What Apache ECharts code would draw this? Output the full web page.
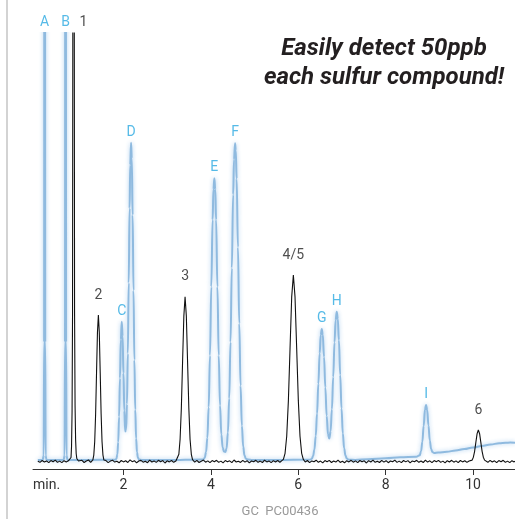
<!DOCTYPE html>
<html><head><meta charset="utf-8">
<script src="https://cdn.jsdelivr.net/npm/echarts@6/dist/echarts.min.js"></script>
<style>html,body{margin:0;padding:0;background:#fff}#c{width:515px;height:519px}</style>
</head><body><div id="c"></div>
<script>
// x axis ticks (minutes)
const xTickValues = [2, 4, 6, 8, 10];
const xTickLabels = ['2', '4', '6', '8', '10'];

// Blue trace (reference chromatogram), [minutes, response]
const blueTrace = [
  [0.04,1.5],[0.15,1.5],[0.175,6],[0.185,120],[0.197,1500],[0.209,120],[0.219,6],[0.24,1.5],
  [0.63,1.5],[0.653,6],[0.663,120],[0.675,1500],[0.687,120],[0.697,6],[0.72,1.5],
  [1.2,1.5],[1.82,1.8],[1.84,2.9],[1.86,7.2],[1.88,19.3],[1.90,44.7],[1.92,83.3],[1.94,122],[1.961,139.8],
  [1.98,125.2],[2.00,88.2],[2.02,50.9],[2.04,30],[2.06,31.6],[2.08,57.4],[2.10,107.9],[2.12,178.6],
  [2.14,253.3],[2.155,296.6],[2.174,318.8],[2.19,303],[2.21,246.4],[2.23,171],[2.25,101.5],[2.27,51.7],
  [2.29,23],[2.31,9.3],[2.33,3.9],[2.36,1.8],[2.42,1.5],
  [3.0,1.5],[3.83,2.1],[3.86,3.8],[3.89,9.4],[3.92,23.7],[3.95,54.2],[3.98,106],[4.01,174.8],[4.04,241.8],
  [4.06,272.2],[4.08,283.2],[4.10,272.2],[4.12,241.8],[4.15,174.8],[4.18,106],[4.21,56],[4.24,27],
  [4.27,14],[4.30,10],[4.33,9.5],[4.36,13],[4.39,29],[4.42,63],[4.45,119.4],[4.48,193.6],[4.51,266.9],
  [4.53,302],[4.554,318.2],[4.57,310.9],[4.59,282.8],[4.62,214.3],[4.65,138.1],[4.68,75.8],[4.71,35.8],
  [4.74,14.9],[4.77,6],[4.80,2.8],[4.85,2],[4.95,1.5],
  [5.5,1.5],[6.28,1.9],[6.31,2.8],[6.34,5.5],[6.37,12.1],[6.40,25.6],[6.43,48],[6.46,77.8],[6.49,108.2],
  [6.515,126.5],[6.538,132.5],[6.56,127],[6.59,104.6],[6.62,74],[6.65,45.8],[6.68,27.5],[6.71,23],
  [6.74,30.3],[6.77,52.2],[6.80,84.6],[6.83,119.2],[6.855,141.2],[6.881,149.8],[6.905,142.4],[6.93,121.3],
  [6.96,86.6],[6.99,53.1],[7.02,28.1],[7.05,13.2],[7.08,5.9],[7.11,2.9],[7.16,1.8],
  [7.3,1.6],[7.6,2.2],[8.0,3.2],[8.33,4.2],[8.7,4.8],
  [8.78,6.3],[8.81,10.2],[8.84,19.8],[8.87,35.8],[8.90,51.9],[8.924,56.6],[8.95,51.4],[8.98,36],
  [9.01,21.1],[9.04,12.5],[9.07,9.4],[9.11,8.5],
  [9.2,8.9],[9.4,9.8],[9.6,11.0],[9.8,12.4],[10.0,14.0],[10.2,15.6],[10.4,17.0],[10.6,18.2],
  [10.75,18.8],[10.85,18.9],[10.96,18.7]
];

// Black trace (sample chromatogram), [minutes, response]
const blackTrace = [
  [0.04,0.2],[0.09,-0.8],[0.14,1.0],[0.19,-0.5],[0.24,0.6],[0.29,-1.2],[0.34,0.9],[0.39,-0.3],[0.44,1.4],
  [0.49,-0.9],[0.54,0.4],[0.59,-1.1],[0.64,0.8],[0.69,-0.4],[0.74,0.7],
  [0.78,1.5],[0.80,4],[0.812,15],[0.824,50],[0.835,150],[0.847,700],[0.858,3000],
  [0.869,700],[0.881,150],[0.893,55],[0.905,22],[0.918,8],[0.932,3],[0.95,1.2],[0.97,0.5],
  [1.00,-0.7],[1.05,1.2],[1.10,-1.0],[1.15,0.5],[1.20,1.5],[1.25,-0.8],
  [1.30,1.6],[1.321,6.4],[1.342,19.8],[1.363,47.6],[1.384,88.9],[1.405,129.3],[1.426,146.5],[1.447,129.3],
  [1.468,88.9],[1.489,47.6],[1.51,19.8],[1.531,6.4],[1.552,1.6],
  [1.60,0.9],[1.65,-1.1],[1.70,0.4],[1.75,1.3],[1.80,-0.6],[1.85,0.2],[1.90,-1.3],[1.95,1.0],[2.00,-0.4],
  [2.05,0.7],[2.10,-1.0],[2.15,1.6],[2.20,-0.2],[2.25,0.8],[2.30,-1.4],[2.35,0.5],[2.40,1.1],[2.45,-0.7],
  [2.50,0.3],[2.55,-1.2],[2.60,1.4],[2.65,-0.5],[2.70,0.6],[2.75,-0.9],[2.80,1.2],[2.85,-0.3],[2.90,0.9],
  [2.95,-1.5],[3.00,0.7],[3.05,-0.4],[3.10,1.0],[3.15,-0.8],[3.20,0.5],
  [3.239,1.8],[3.268,7.2],[3.296,22.3],[3.325,53.5],[3.353,100],[3.382,145.4],[3.41,164.8],[3.439,145.4],
  [3.467,100],[3.496,53.5],[3.524,22.3],[3.553,7.2],[3.581,1.8],
  [3.63,-0.6],[3.68,1.1],[3.73,-1.0],[3.78,0.3],[3.83,1.4],[3.88,-0.7],[3.93,0.6],[3.98,-1.2],[4.03,0.9],
  [4.08,-0.3],[4.13,1.2],[4.18,-0.9],[4.23,0.4],[4.28,-1.4],[4.33,1.0],[4.38,-0.2],[4.43,0.7],[4.48,-1.1],
  [4.53,1.5],[4.58,-0.5],[4.63,0.3],[4.68,-0.9],[4.73,1.1],[4.78,-0.6],[4.83,0.8],[4.88,-1.3],[4.93,0.5],
  [4.98,-0.2],[5.03,1.2],[5.08,-0.8],[5.13,0.4],[5.18,-1.0],[5.23,1.3],[5.28,-0.4],[5.33,0.6],[5.38,-1.2],
  [5.43,0.9],[5.48,-0.5],[5.53,1.0],[5.58,-0.7],[5.62,0.4],
  [5.66,2.1],[5.698,8.2],[5.736,25.2],[5.774,60.6],[5.812,113.1],[5.85,164.6],[5.888,186.5],[5.926,164.6],
  [5.964,113.1],[6.002,60.6],[6.04,25.2],[6.078,8.2],[6.116,2.1],
  [6.16,-0.5],[6.21,1.0],[6.26,-1.2],[6.31,0.6],[6.36,-0.3],[6.41,1.3],[6.46,-0.8],[6.51,0.4],[6.56,-1.4],
  [6.61,0.9],[6.66,-0.2],[6.71,1.1],[6.76,-1.0],[6.81,0.5],[6.86,-0.6],[6.91,1.4],[6.96,-0.9],[7.01,0.3],
  [7.06,-1.3],[7.11,0.8],[7.16,-0.4],[7.21,1.2],[7.26,-0.7],[7.31,0.6],[7.36,-1.1],[7.41,1.0],[7.46,-0.3],
  [7.51,0.7],[7.56,-1.5],[7.61,0.9],[7.66,-0.5],[7.71,1.3],[7.76,-0.8],[7.81,0.2],[7.86,-1.0],[7.91,1.1],
  [7.96,-0.6],[8.01,0.8],[8.06,-1.2],[8.11,0.5],[8.16,-0.3],[8.21,1.4],[8.26,-0.9],[8.31,0.4],[8.36,-1.1],
  [8.41,1.0],[8.46,-0.4],[8.51,0.9],[8.56,-1.3],[8.61,0.6],[8.66,-0.2],[8.71,1.2],[8.76,-0.8],[8.81,0.5],
  [8.86,-1.0],[8.91,1.3],[8.96,-0.6],[9.01,0.7],[9.06,-1.2],[9.11,0.9],[9.16,-0.3],[9.21,1.1],[9.26,-0.9],
  [9.31,0.4],[9.36,-1.4],[9.41,0.8],[9.46,-0.5],[9.51,1.2],[9.56,-0.7],[9.61,0.6],[9.66,-1.1],[9.71,1.0],
  [9.76,-0.4],[9.81,0.8],[9.86,-0.9],[9.91,0.5],
  [9.95,0.3],[9.979,1.4],[10.007,4.3],[10.036,10.2],[10.064,19.1],[10.093,27.8],[10.121,31.5],[10.15,27.8],
  [10.178,19.1],[10.207,10.2],[10.235,4.3],[10.264,1.4],[10.292,0.3],
  [10.34,-0.8],[10.39,1.1],[10.44,-0.5],[10.49,0.7],[10.54,-1.2],[10.59,0.9],[10.64,-0.3],[10.69,1.2],
  [10.74,-0.9],[10.79,0.4],[10.84,-1.1],[10.89,0.8],[10.94,-0.4],[10.96,0.2]
];

// Peak labels
const bluePeakNames   = ['A','B','C','D','E','F','G','H','I'];
const bluePeakTimes   = [0.197,0.675,1.961,2.174,4.080,4.554,6.538,6.881,8.924];
const bluePeakHeights = [1500,1500,139.8,318.8,283.2,318.2,132.5,149.8,56.6];
const blackPeakNames   = ['1','2','3','4/5','6'];
const blackPeakTimes   = [0.858,1.426,3.410,5.888,10.121];
const blackPeakHeights = [3000,146.5,164.8,186.5,31.5];

const titleLines = ['Easily detect 50ppb', 'each sulfur compound!'];
const footerText = 'GC  PC00436';
const axisUnitText = 'min.';

const X_MIN = -0.07, X_MAX = 10.96, Y_MIN = -7.5, Y_MAX = 428.5;
const BLUE_LABEL = '#2aa9e1', BLACK_LABEL = '#222';

function labelItems(names, times, heights, color, dist, extra) {
  return names.map((n, i) => {
    const clipped = heights[i] > Y_MAX;
    const off = (extra && extra[n]) || [0, 0];
    return {
      value: [times[i], Math.min(heights[i], Y_MAX)],
      label: {
        show: true, formatter: n, position: 'top',
        distance: clipped ? 4 : dist, offset: off,
        color: color, fontSize: 14, fontFamily: 'Roboto'
      }
    };
  });
}

const labelData = labelItems(bluePeakNames, bluePeakTimes, bluePeakHeights, BLUE_LABEL, 3.5)
  .concat(labelItems(blackPeakNames, blackPeakTimes, blackPeakHeights, BLACK_LABEL, 13, {'1': [10, 0]}));

const chart = echarts.init(document.getElementById('c'), null, {renderer: 'canvas'});
chart.setOption({
  animation: false,
  backgroundColor: '#fff',
  grid: {left: 33, right: 0, top: 33, bottom: 50},
  xAxis: {
    type: 'value', min: X_MIN, max: X_MAX,
    axisLine: {onZero: false, lineStyle: {color: '#333', width: 1}},
    axisTick: {customValues: xTickValues, length: 6, lineStyle: {color: '#333', width: 1}},
    axisLabel: {
      customValues: xTickValues,
      formatter: v => { const i = xTickValues.indexOf(v); return i >= 0 ? xTickLabels[i] : ''; },
      margin: 9, color: '#333', fontSize: 14, fontFamily: 'Roboto'
    },
    splitLine: {show: false}
  },
  yAxis: {type: 'value', min: Y_MIN, max: Y_MAX, show: false},
  series: [
    {
      type: 'line', data: blueTrace, symbol: 'none', smooth: 0.4, smoothMonotone: 'x', z: 2,
      lineStyle: {color: '#8fbadf', width: 2, shadowColor: 'rgba(170,205,238,0.95)', shadowBlur: 4}
    },
    {
      type: 'line', data: blackTrace, symbol: 'none', z: 3,
      lineStyle: {color: '#111', width: 1.1}
    },
    {
      type: 'scatter', data: labelData, symbolSize: 0, clip: false, silent: true, z: 4
    }
  ],
  graphic: [
    {type: 'line', shape: {x1: 7, y1: 0, x2: 7, y2: 519}, style: {stroke: '#c4c4c4', lineWidth: 1.5}},
    {type: 'text', x: 384, y: 63, style: {
      text: titleLines.join('\n'), fill: '#231f20', font: 'italic bold 24px Roboto',
      textAlign: 'center', textVerticalAlign: 'middle', align: 'center', verticalAlign: 'middle', lineHeight: 29}},
    {type: 'text', x: 33, y: 485, style: {
      text: axisUnitText, fill: '#333', font: '14px Roboto',
      textAlign: 'left', textVerticalAlign: 'middle', align: 'left', verticalAlign: 'middle'}},
    {type: 'text', x: 280, y: 512, style: {
      text: footerText, fill: '#9a9a9a', font: '13px Roboto',
      textAlign: 'center', textVerticalAlign: 'middle', align: 'center', verticalAlign: 'middle'}}
  ]
});
</script>
</body></html>
